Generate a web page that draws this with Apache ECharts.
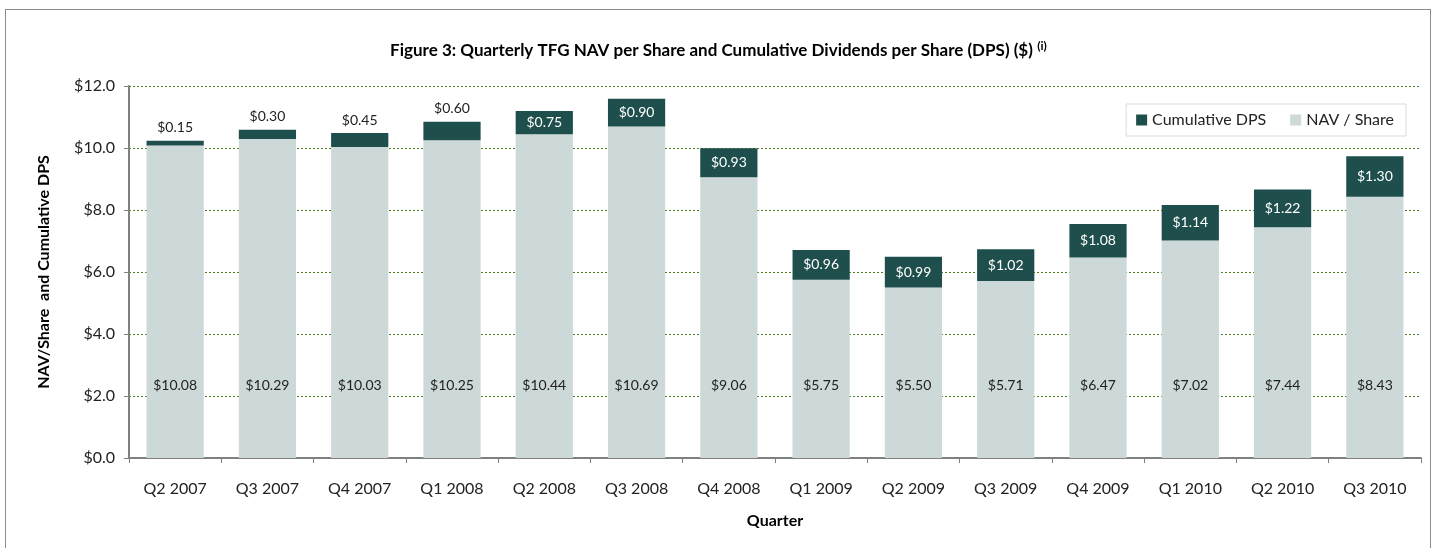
<!DOCTYPE html>
<html>
<head>
<meta charset="utf-8">
<script src="https://cdn.jsdelivr.net/npm/echarts@6/dist/echarts.min.js"></script>
<style>
  html, body { margin: 0; padding: 0; background: #fff; }
  #frame { position: absolute; left: 5px; top: 9px; width: 1426px; height: 560px; border: 1px solid #8c8c8c; border-bottom: none; box-sizing: border-box; }
  #main { position: absolute; left: 0; top: 0; width: 1437px; height: 548px; }
</style>
</head>
<body>
<div id="frame"></div>
<div id="main"></div>
<script>
var quarters = ['Q2 2007', 'Q3 2007', 'Q4 2007', 'Q1 2008', 'Q2 2008', 'Q3 2008', 'Q4 2008',
                'Q1 2009', 'Q2 2009', 'Q3 2009', 'Q4 2009', 'Q1 2010', 'Q2 2010', 'Q3 2010'];
var navShare = [10.08, 10.29, 10.03, 10.25, 10.44, 10.69, 9.06, 5.75, 5.50, 5.71, 6.47, 7.02, 7.44, 8.43];
var cumDps = [0.15, 0.30, 0.45, 0.60, 0.75, 0.90, 0.93, 0.96, 0.99, 1.02, 1.08, 1.14, 1.22, 1.30];

var font = 'Lato, "Open Sans", sans-serif';
var dark = '#1f4f4c';
var light = '#cdd8d8';

var myChart = echarts.init(document.getElementById('main'));

// 小的分红段把标签放在柱子上方
var dpsData = cumDps.map(function (v) {
    var item = { value: v };
    if (v < 0.7) {
        item.label = { position: 'top', color: '#222', distance: 6 };
    }
    return item;
});

option = {
    textStyle: { fontFamily: font },
    title: {
        text: '{a|Figure 3: Quarterly TFG NAV per Share and Cumulative Dividends per Share (DPS) ($)} {s|(i)}',
        left: 'center',
        top: 35,
        textStyle: {
            rich: {
                a: { fontFamily: font, fontSize: 17, fontWeight: 'bold', color: '#000' },
                s: { fontFamily: font, fontSize: 12, fontWeight: 'bold', color: '#000', verticalAlign: 'top', padding: [0, 0, 10, 0] }
            }
        }
    },
    legend: {
        data: [
            { name: 'Cumulative DPS', icon: 'rect' },
            { name: 'NAV / Share', icon: 'rect' }
        ],
        right: 31,
        top: 104,
        itemWidth: 11,
        itemHeight: 11,
        itemGap: 24,
        padding: [8, 12, 8, 10],
        borderColor: '#d9d9d9',
        borderWidth: 1,
        textStyle: { fontFamily: font, fontSize: 16, color: '#222' }
    },
    grid: { left: 129, right: 16, top: 86, bottom: 90 },
    xAxis: {
        type: 'category',
        data: quarters,
        name: 'Quarter',
        nameLocation: 'middle',
        nameGap: 55,
        nameTextStyle: { fontFamily: font, fontSize: 16, fontWeight: 'bold', color: '#000' },
        axisLine: { lineStyle: { color: '#808080', width: 2 } },
        axisTick: { show: true, length: 5, lineStyle: { color: '#808080', width: 1 } },
        axisLabel: { fontFamily: font, fontSize: 16, color: '#222', margin: 23 }
    },
    yAxis: {
        type: 'value',
        min: 0,
        max: 12,
        interval: 2,
        name: 'NAV/Share  and Cumulative DPS',
        nameLocation: 'middle',
        nameGap: 77,
        nameTextStyle: { fontFamily: font, fontSize: 16, fontWeight: 'bold', color: '#000' },
        axisLine: { show: true, lineStyle: { color: '#808080', width: 2 } },
        axisTick: { show: true, length: 5, lineStyle: { color: '#808080' } },
        axisLabel: {
            fontFamily: font, fontSize: 16, color: '#222', margin: 14,
            formatter: function (v) { return '$' + v.toFixed(1); }
        },
        splitLine: { lineStyle: { color: '#4e7d1e', type: [2, 2], width: 1 } }
    },
    series: [
        {
            name: 'NAV / Share',
            type: 'bar',
            stack: 'total',
            data: navShare,
            barCategoryGap: '38%',
            itemStyle: { color: light },
            label: {
                show: true,
                position: 'insideBottom',
                distance: 66,
                fontFamily: font,
                fontSize: 14,
                color: '#222',
                formatter: function (p) { return '$' + p.value.toFixed(2); }
            }
        },
        {
            name: 'Cumulative DPS',
            type: 'bar',
            stack: 'total',
            data: dpsData,
            itemStyle: { color: dark },
            label: {
                show: true,
                position: 'inside',
                fontFamily: font,
                fontSize: 14,
                color: '#fff',
                formatter: function (p) { return '$' + p.value.toFixed(2); }
            }
        }
    ],
    animation: false
};

myChart.setOption(option);
</script>
</body>
</html>
